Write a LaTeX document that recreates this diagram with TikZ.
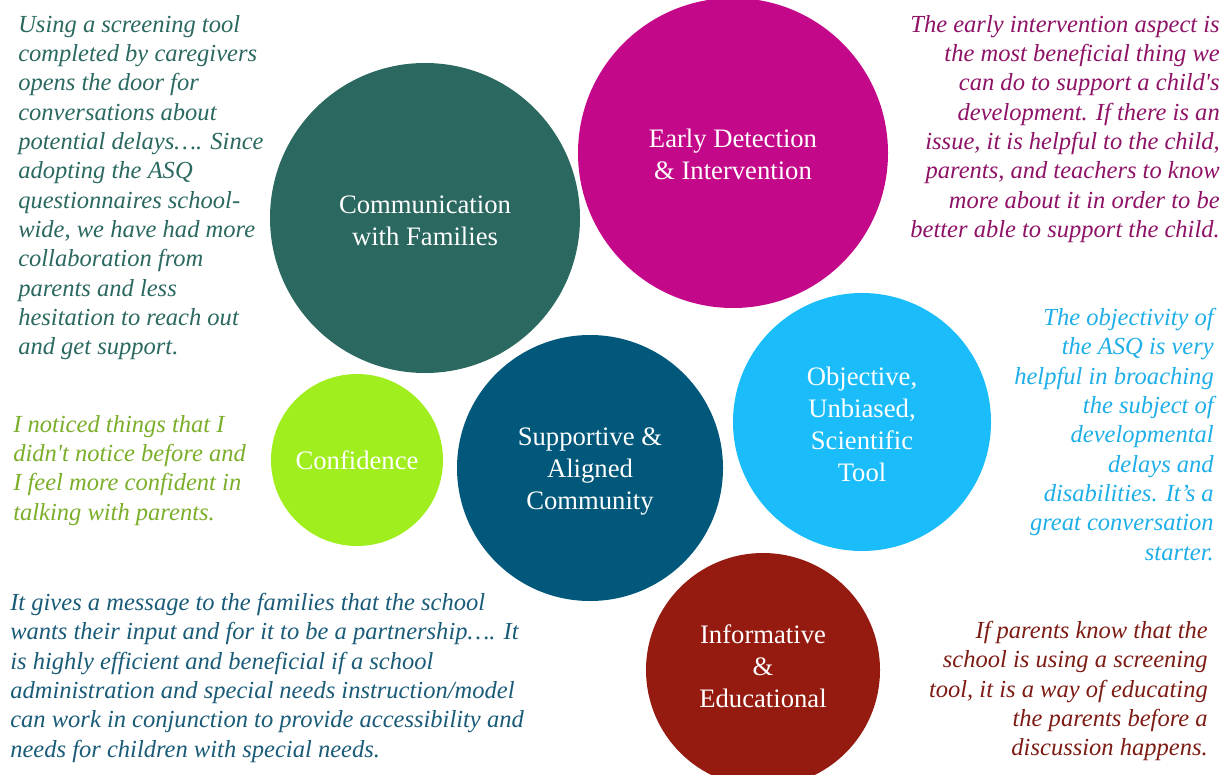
\documentclass[tikz,border=0pt]{standalone}
\usepackage{fontspec}
\setmainfont{Liberation Serif}
\definecolor{commfill}{HTML}{2A6860}
\definecolor{earlyfill}{HTML}{C4088A}
\definecolor{conffill}{HTML}{A0EE1E}
\definecolor{suppfill}{HTML}{02587A}
\definecolor{objfill}{HTML}{1ABDFA}
\definecolor{infofill}{HTML}{951B10}
\definecolor{commtext}{HTML}{2A6860}
\definecolor{earlytext}{HTML}{8E1266}
\definecolor{conftext}{HTML}{7BAE2A}
\definecolor{supptext}{HTML}{1A5B78}
\definecolor{objtext}{HTML}{1EAEE8}
\definecolor{infotext}{HTML}{7D1C14}
\begin{document}
\begin{tikzpicture}[x=0.75pt,y=-0.75pt]
	\tikzstyle{every node}+=[inner sep=0pt]
	\tikzstyle{bubble}=[circle]
	\tikzstyle{caption}=[text=white, align=center, font=\fontsize{20}{24}\selectfont]
	\tikzstyle{quote}=[font=\fontsize{18.4}{22}\selectfont\itshape]
	\useasboundingbox (0,0) rectangle (1223,774);
	\node [bubble, fill=commfill, minimum size=232.5pt] (b1) at (425,218) {};
	\node [bubble, fill=earlyfill, minimum size=232.5pt] (b2) at (733,153) {};
	\node [bubble, fill=conffill, minimum size=129pt] (b3) at (357,460) {};
	\node [bubble, fill=suppfill, minimum size=199.5pt] (b4) at (590,468) {};
	\node [bubble, fill=objfill, minimum size=193.5pt] (b5) at (862,422) {};
	\node [bubble, fill=infofill, minimum size=175.5pt] (b6) at (763,670) {};
	\node [caption] (t1) at ([yshift=-2.25pt]b1.center) {Communication\\with Families};
	\node [caption] (t2) at ([yshift=-0.75pt]b2.center) {Early Detection\\\& Intervention};
	\node [caption] (t3) at (b3.center) {Confidence};
	\node [caption] (t4) at ([yshift=-3pt]b4.center) {Supportive \&\\Aligned\\Community};
	\node [caption] (t5) at ([yshift=-1.5pt]b5.center) {Objective,\\Unbiased,\\Scientific\\Tool};
	\node [caption] (t6) at ([yshift=3pt]b6.center) {Informative\\\&\\Educational};
	\node [quote, text=commtext, align=left, anchor=north west] (q1) at (18,15) {Using a screening tool\\completed by caregivers\\opens the door for\\conversations about\\potential delays…. Since\\adopting the ASQ\\questionnaires school-\\wide, we have had more\\collaboration from\\parents and less\\hesitation to reach out\\and get support.};
	\node [quote, text=earlytext, align=right, anchor=north east] (q2) at (1220,15) {The early intervention aspect is\\the most beneficial thing we\\can do to support a child\textquotesingle s\\development. If there is an\\issue, it is helpful to the child,\\parents, and teachers to know\\more about it in order to be\\better able to support the child.};
	\node [quote, text=conftext, align=left, anchor=north west] (q3) at (13,415) {I noticed things that I\\didn\textquotesingle t notice before and\\I feel more confident in\\talking with parents.};
	\node [quote, text=supptext, align=left, anchor=north west] (q4) at (10,593) {It gives a message to the families that the school\\wants their input and for it to be a partnership…. It\\is highly efficient and beneficial if a school\\administration and special needs instruction/model\\can work in conjunction to provide accessibility and\\needs for children with special needs.};
	\node [quote, text=objtext, align=right, anchor=north east] (q5) at (1214,308) {The objectivity of\\the ASQ is very\\helpful in broaching\\the subject of\\developmental\\delays and\\disabilities. It’s a\\great conversation\\starter.};
	\node [quote, text=infotext, align=right, anchor=north east] (q6) at (1208,621) {If parents know that the\\school is using a screening\\tool, it is a way of educating\\the parents before a\\discussion happens.};
\end{tikzpicture}
\end{document}
